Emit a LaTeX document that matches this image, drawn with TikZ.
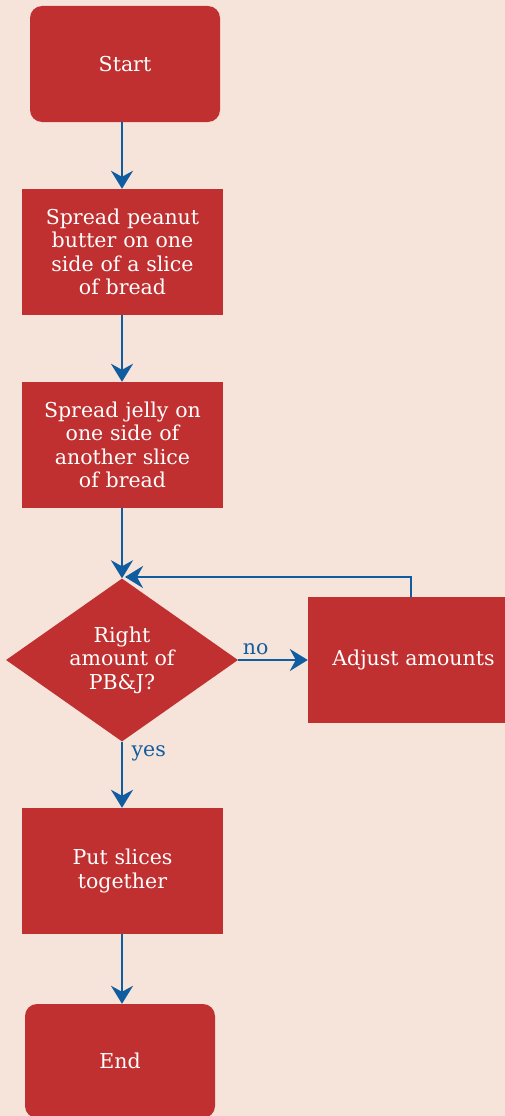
\documentclass[tikz,border=0pt]{standalone}
\usepackage{fontspec}
\setmainfont{DejaVu Serif}
\usetikzlibrary{shapes.geometric,arrows.meta}
\definecolor{bg}{RGB}{246,228,218}
\definecolor{boxred}{RGB}{192,48,48}
\definecolor{flowblue}{RGB}{16,92,160}
\begin{document}
\begin{tikzpicture}[x=1pt,y=-1pt,
  every node/.style={font=\fontsize{20.5}{23.5}\selectfont},
  procbox/.style={fill=boxred,text=white,align=center,inner sep=0pt,minimum width=201pt,minimum height=126pt,text width=195pt},
  termbox/.style={procbox,rounded corners=12pt,minimum width=190pt,text width=170pt},
  decbox/.style={diamond,fill=boxred,text=white,align=center,inner sep=0pt,minimum width=232pt,minimum height=163pt,aspect=1.42},
  flow/.style={draw=flowblue,line width=2.6pt,-{Stealth[length=18pt,width=22pt,inset=6pt]}},
  lbl/.style={text=flowblue}]
\fill[bg] (0,0) rectangle (505,1116);
\useasboundingbox (0,0) rectangle (505,1116);
\node[termbox,minimum height=116pt] (start) at (125,64) {Start};
\node[procbox] (pb) at (122.5,252) {Spread peanut\\butter on one\\side of a slice\\of bread};
\node[procbox] (jelly) at (122.5,445) {Spread jelly on\\one side of\\another slice\\of bread};
\node[decbox] (dec) at (122,660) {Right\\amount of\\PB\&J?};
\node[procbox,minimum width=197pt,text width=197pt] (adj) at (406.5,660) {\hspace*{14pt}Adjust amounts};
\node[procbox] (put) at (122.5,871) {Put slices\\together};
\node[termbox,minimum height=114pt] (end) at (120,1061) {End};
\coordinate (loopc) at (411,577);
\coordinate (loopt) at (125,577);
\draw[flow] (start.south -| 122,0) -- (pb.north -| 122,0);
\draw[flow] (pb.south -| 122,0) -- (jelly.north -| 122,0);
\draw[flow] (jelly.south -| 122,0) -- (dec.north);
\draw[flow] (adj.north -| loopc) -- (loopc) -- (loopt);
\draw[flow] (dec.east) -- node[lbl,pos=0,anchor=south west,yshift=1pt] {no} (adj.west);
\draw[flow] (dec.south) -- node[lbl,pos=0.17,anchor=west,xshift=5pt] {yes} (put.north -| 122,0);
\draw[flow] (put.south -| 122,0) -- (end.north -| 122,0);
\end{tikzpicture}
\end{document}
